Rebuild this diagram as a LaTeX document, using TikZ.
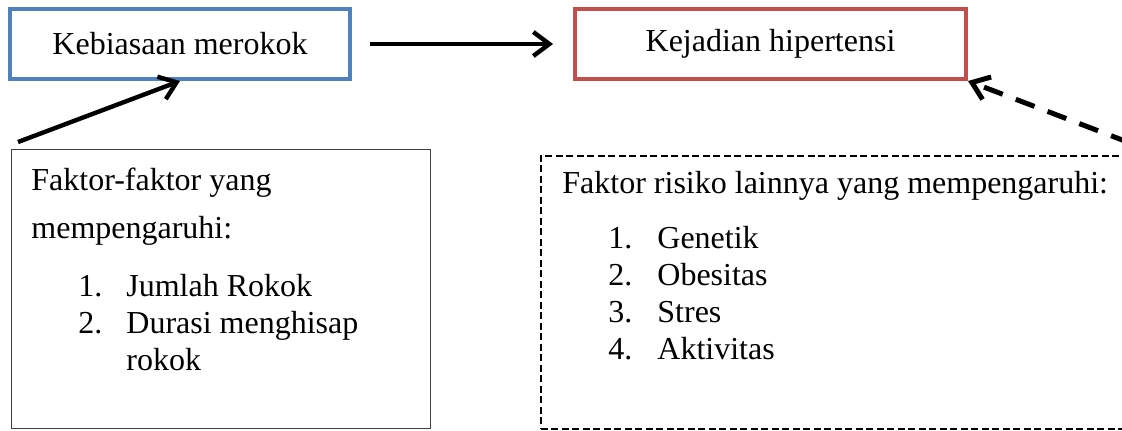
\documentclass[tikz,border=0pt]{standalone}
\usepackage{fontspec}
\setmainfont{Liberation Serif}
\definecolor{habitblue}{RGB}{79,129,189}
\definecolor{hyperred}{RGB}{192,80,77}
\definecolor{boxgray}{RGB}{64,64,64}
\usetikzlibrary{arrows.meta, positioning}

\begin{document}
\begin{tikzpicture}[x=0.5pt, y=-0.5pt,
            mainbox/.style={draw, line width=2pt, minimum height=35pt,
                font=\fontsize{16}{19}\selectfont, align=center},
            factbox/.style={draw=boxgray, line width=0.75pt, anchor=north west,
                minimum width=209.5pt, minimum height=139.5pt},
            otherbox/.style={draw, line width=0.75pt, anchor=north west,
                dash pattern=on 3.5pt off 1.75pt,
                minimum width=310pt, minimum height=136.5pt},
            txt/.style={anchor=base west, inner sep=0pt,
                font=\fontsize{16}{19}\selectfont},
            arr/.style={-{Straight Barb[length=8pt, width=12pt]}, line width=2.2pt}
          ]
          \useasboundingbox (0,0) rectangle (1122,430);
          \clip (0,0) rectangle (1122,430);
          \node[mainbox, draw=habitblue, minimum width=170pt] (habit) at (180,44)
          {Kebiasaan merokok};
          \node[mainbox, draw=hyperred, minimum width=195.5pt] (hyper) at (770.5,44)
          {Kejadian hipertensi};
          \node[factbox]  (factor) at (10.5,148.5) {};
          \node[otherbox] (other)  at (540,155) {};
          % isi kotak kiri
          \node[txt] (f1)  at (31,190)  {Faktor-faktor yang};
          \node[txt] (f2)  at (31,238)  {mempengaruhi:};
          \node[txt] (fn1) at (78,296)  {1.};
          \node[txt] (fi1) at (126,296) {Jumlah Rokok};
          \node[txt] (fn2) at (78,333)  {2.};
          \node[txt] (fi2) at (126,333) {Durasi menghisap};
          \node[txt] (fi3) at (126,370) {rokok};
          % isi kotak kanan
          \node[txt] (o1)  at (562,193) {Faktor risiko lainnya yang mempengaruhi:};
          \node[txt] (on1) at (608,248) {1.};
          \node[txt] (oi1) at (657,248) {Genetik};
          \node[txt] (on2) at (608,285) {2.};
          \node[txt] (oi2) at (657,285) {Obesitas};
          \node[txt] (on3) at (608,322) {3.};
          \node[txt] (oi3) at (657,322) {Stres};
          \node[txt] (on4) at (608,359) {4.};
          \node[txt] (oi4) at (657,359) {Aktivitas};
          \coordinate (smoke) at (18,142);
          \draw[arr, shorten <=9pt, shorten >=10pt] (habit) -- (hyper);
          \draw[arr] (smoke) -- (habit.south);
          \draw[arr, line width=2.5pt, dash pattern=on 10pt off 7pt]
          (other.north east) -- (hyper.south east);
        \end{tikzpicture}
\end{document}
